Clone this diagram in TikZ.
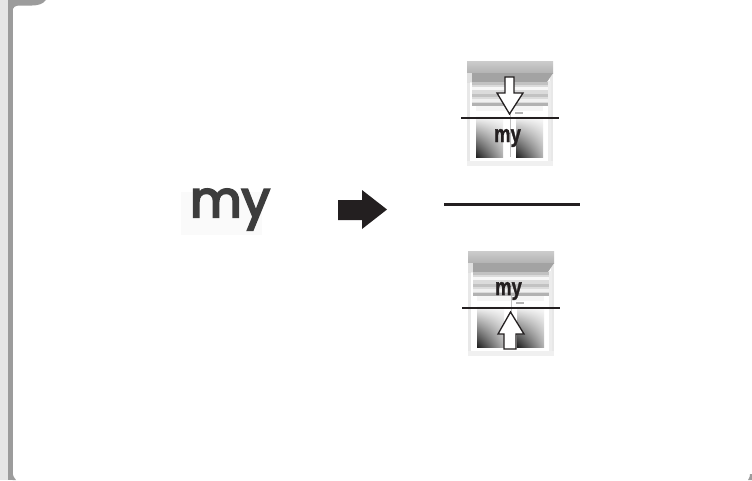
\documentclass[tikz,border=0pt]{standalone}
\usepackage{fontspec}
\usetikzlibrary{shadings}
\setmainfont{Liberation Sans}
\newfontfamily\bigfont[FakeBold=4.5]{Poppins}
\newfontfamily\winfont[FakeBold=1.6]{Liberation Sans}
\definecolor{stripL}{HTML}{E6E6E6}
\definecolor{stripD}{HTML}{9C9C9C}
\definecolor{arrowK}{HTML}{231F20}
\tikzset{
  pane/.style={lower left=black!88,lower right=black!30,upper left=white,upper right=white},
  winlabel/.style={font=\winfont\bfseries\fontsize{24}{24}\selectfont,text=arrowK,inner sep=0pt,anchor=base},
  levelline/.style={draw=arrowK,line width=2pt},
  hollow/.style={draw=arrowK,fill=white,line width=1.3pt,line join=miter}
}
\newcommand{\windowfig}{%
  \fill[black!9] (0,0) rectangle (86,105);
  \fill[white] (3,12) rectangle (83,100);
  \fill[black!6] (0,100) rectangle (86,105);
  \fill[black!7] (81,20) rectangle (84,100);
  \shade[top color=black!20,bottom color=black!30] (0,0) rectangle (86,12);
  \fill[black!36] (0,12) -- (86,12) -- (80,21) -- (0,21) -- cycle;
  \fill[black!12] (0,12) rectangle (5,21);
  \fill[black!14] (5,21) rectangle (81,45);
  \foreach \yy/\cc in {21/24,26/3,33/24,38/6,42/30}{\fill[black!\cc] (5,\yy) rectangle (81,\yy+3);}
  \fill[black!4] (9,45) rectangle (76,50);
  \fill[white] (9,50) rectangle (76,96);
  \shade[pane] (9,54) rectangle (36,96);
  \shade[pane] (49,54) rectangle (76,96);
  \draw[black!25,line width=.4pt] (43,45) -- (43,96);
  \fill[black!30] (48,51) rectangle (56,53);
}
\begin{document}
\begin{tikzpicture}[x=1pt,y=-1pt]
\useasboundingbox (0,0) rectangle (752,480);
\fill[white] (0,0) rectangle (752,480);
% page frame
\fill[stripL] (0,0) rectangle (8,480);
\fill[stripD] (8,0) rectangle (12.5,480);
\fill[stripD] (12.5,0) -- (46,0) .. controls (43,4) and (38,5.5) .. (32,5.5) -- (20,5.5) .. controls (15,5.5) and (12.5,7) .. (12.5,12) -- cycle;
\fill[stripD] (12.5,472) .. controls (13,476) and (14,478) .. (16,480) -- (12.5,480) -- cycle;
\fill[stripD] (752,474) -- (752,480) -- (748,480) .. controls (749.5,478) and (750,476) .. (750,474) -- cycle;
% big label
\fill[black!2] (181,192) rectangle (262,235);
\node[inner sep=0pt,anchor=base,text=black!76] (mylabel) at (230,217) {\bigfont\fontsize{50}{50}\selectfont my};
% arrow
\fill[arrowK] (338,200) -- (362,200) -- (362,190) -- (387,209.5) -- (362,229) -- (362,220) -- (338,220) -- cycle;
% divider
\coordinate (divL) at (444,204.5);
\coordinate (divR) at (580,204.5);
\draw[arrowK,line width=3pt] (divL) -- (divR);
% top window
\begin{scope}[shift={(467,61)}]
  \windowfig
  \node[winlabel] (mytop) at (40.5,81) {\scalebox{.77}[1]{my}};
\end{scope}
\draw[hollow] (505,77) -- (514,77) -- (514,93) -- (523,93) -- (509.5,114) -- (497,93) -- (505,93) -- cycle;
\coordinate (topL) at (461,118);
\coordinate (topR) at (559,118);
\draw[levelline] (topL) -- (topR);
% bottom window
\begin{scope}[shift={(468,251)}]
  \windowfig
  \node[winlabel] (mybot) at (40.5,44) {\scalebox{.77}[1]{my}};
\end{scope}
\draw[hollow] (510.5,312) -- (524,334) -- (516,334) -- (516,349) -- (504,349) -- (504,334) -- (498,334) -- cycle;
\coordinate (botL) at (462,308);
\coordinate (botR) at (560,308);
\draw[levelline] (botL) -- (botR);
\end{tikzpicture}
\end{document}
